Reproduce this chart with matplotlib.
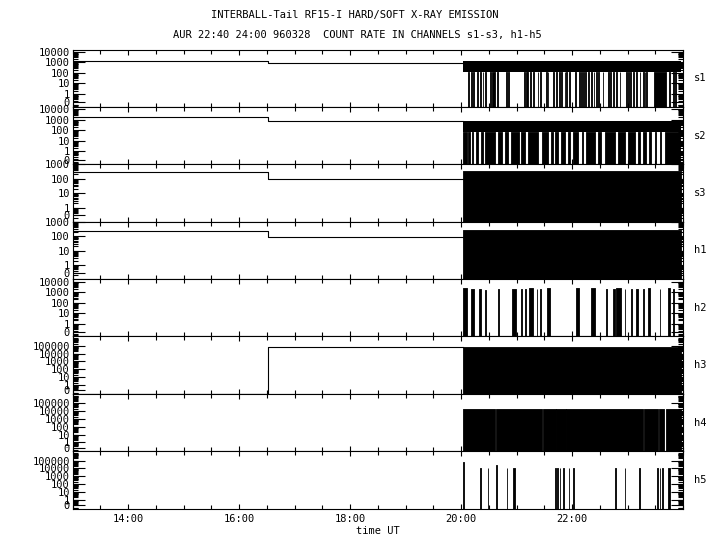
import numpy as np
import matplotlib
matplotlib.use("Agg")
import matplotlib.pyplot as plt
from matplotlib.ticker import LogLocator, NullFormatter, MultipleLocator, FixedLocator

plt.rcParams['font.family'] = ['DejaVu Sans Mono']
plt.rcParams['font.size'] = 7.5

channels = ['s1', 's2', 's3', 'h1', 'h2', 'h3', 'h4', 'h5']

# log10 range of each panel, and top labelled decade
y_lo = [-1.24, -1.24, -0.97, -0.97, -1.24, -1.15, -1.15, -1.15]
y_hi = [4.24, 4.24, 3.0, 3.0, 4.24, 6.2, 6.2, 6.2]
top_decade = [4, 4, 3, 3, 4, 5, 5, 5]

# before 20:00 the rates are flat, with one change at 16:31
step_times = [13.0, 16.52, 20.03]
s1_pre = [1450, 810]
s2_pre = [1750, 760]
s3_pre = [275, 90]
h1_pre = [220, 85]
h3_pre = [0, 72000]

# after 20:00: noisy band (low, high) for s1/s2
data_start, data_end = 20.03, 23.97
s1_band = (120, 1300)
s2_band = (72, 760)

# drop-outs to zero, (start hour, duration)
s1_drops = [(20.13, .012), (20.18, .012), (20.22, .012), (20.28, .03), (20.34, .012),
            (20.39, .012), (20.44, .012), (20.53, .012), (20.56, .05), (20.65, .012),
            (20.81, .012), (20.85, .012), (21.14, .012), (21.17, .012), (21.19, .012),
            (21.24, .012), (21.30, .012), (21.38, .012), (21.42, .012), (21.53, .012),
            (21.56, .012), (21.66, .012), (21.71, .012), (21.77, .012), (21.80, .012),
            (21.87, .012), (21.90, .012), (21.95, .012), (22.06, .012), (22.13, .012),
            (22.16, .012), (22.20, .012), (22.24, .012), (22.29, .012), (22.35, .012),
            (22.39, .012), (22.44, .012), (22.47, .012), (22.55, .012), (22.65, .012),
            (22.69, .012), (22.74, .012), (22.79, .012), (22.86, .012), (22.97, .012),
            (23.01, .012), (23.05, .012), (23.10, .012), (23.16, .012), (23.22, .012),
            (23.28, .012), (23.31, .012), (23.34, .012), (23.48, .22), (23.75, .012),
            (23.82, .012), (23.86, .012)]
s2_drops = [(20.038, .06), (20.129, .03), (20.195, .024), (20.267, .042), (20.351, .036),
            (20.429, .18), (20.669, .06), (20.789, .06), (20.891, .156), (21.089, .06),
            (21.210, .18), (21.450, .12), (21.618, .03), (21.690, .06), (21.810, .06),
            (21.930, .03), (22.020, .09), (22.171, .018), (22.243, .168), (22.471, .06),
            (22.591, .18), (22.831, .12), (23.011, .12), (23.192, .03), (23.282, .048),
            (23.390, .042), (23.492, .03), (23.582, .03), (23.672, .27)]

# channels that are black over the whole interval: top level of the spikes
s3_top = 350
h1_top = 260
h3_top = 72000
h4_top = 17000
h4_spans = [(20.03, .575), (20.625, .84), (21.48, .225), (21.72, .165), (21.90, 1.375),
            (23.29, .255), (23.565, .10), (23.685, .285)]

# sparse bursts (start, duration) and peak rate
h2_bursts = [(20.04, .06), (20.18, .05), (20.33, .03), (20.43, .012), (20.67, .012),
             (20.91, .08), (21.08, .012), (21.15, .012), (21.23, .07), (21.36, .012),
             (21.42, .012), (21.54, .06), (22.07, .06), (22.35, .06), (22.61, .012),
             (22.74, .03), (22.80, .09), (22.95, .012), (23.07, .012), (23.16, .03),
             (23.28, .012), (23.37, .04), (23.58, .012), (23.73, .03), (23.82, .012)]
h2_peak = [2500, 2000, 2000, 1500, 2000, 2000, 1800, 2000, 2200, 1800,
           1800, 2200, 2500, 2200, 1800, 2000, 2200, 1800, 2000, 2000,
           2000, 2200, 2000, 2200, 2000]
h5_bursts = [(20.04, .012), (20.35, .012), (20.48, .012), (20.63, .012), (20.82, .012),
             (20.94, .04), (21.69, .012), (21.73, .012), (21.78, .012), (21.84, .012),
             (21.94, .012), (22.02, .015), (22.78, .012), (22.95, .012), (23.21, .012),
             (23.53, .012), (23.58, .012), (23.63, .012), (23.73, .03)]
h5_peak = [76000, 12000, 12000, 25000, 12000, 12000, 12000, 12000, 12000, 12000,
           12000, 12000, 12000, 12000, 12000, 12000, 12000, 12000, 12000]

pre = {'s1': s1_pre, 's2': s2_pre, 's3': s3_pre, 'h1': h1_pre, 'h3': h3_pre}
bands = {'s1': s1_band, 's2': s2_band}
drops = {'s1': s1_drops, 's2': s2_drops}
full = {'s3': ([(data_start, data_end - data_start)], s3_top),
        'h1': ([(data_start, data_end - data_start)], h1_top),
        'h3': ([(data_start, data_end - data_start)], h3_top),
        'h4': (h4_spans, h4_top)}
bursts = {'h2': (h2_bursts, h2_peak), 'h5': (h5_bursts, h5_peak)}

fig = plt.figure(figsize=(7.2, 5.5), dpi=100)
left, right = 0.101, 0.9486
bottom, top = 0.0751, 0.91
ph = (top - bottom) / 8

for i, name in enumerate(channels):
    ax = fig.add_axes([left, top - (i + 1) * ph, right - left, ph])
    ax.set_yscale('log')
    ybot = 10 ** y_lo[i]
    ax.set_ylim(ybot, 10 ** y_hi[i])
    ax.set_xlim(13, 24)

    if name in pre:
        v = pre[name] + [pre[name][-1]]
        v = np.maximum(v, ybot)
        ax.step(step_times, v, where='post', color='k', lw=0.8)
    if name in bands:
        lo, hi = bands[name]
        ax.fill_between([data_start, data_end], lo, hi, color='k', lw=0)
        ax.broken_barh(drops[name], (ybot, lo - ybot), facecolor='k',
                       edgecolor='k', lw=0.6)
    if name in full:
        spans, lvl = full[name]
        ax.broken_barh(spans, (ybot, lvl - ybot), facecolor='k', edgecolor='k', lw=0.6)
    if name in bursts:
        spans, peaks = bursts[name]
        for sp, pk in zip(spans, peaks):
            ax.broken_barh([sp], (ybot, pk - ybot), facecolor='k', edgecolor='k', lw=0.6)

    # y ticks: "0" sits just above the bottom, then decades
    ticks = [10 ** (y_lo[i] + 0.45)] + [10 ** k for k in range(top_decade[i] + 1)]
    labels = ['0'] + [str(10 ** k) for k in range(top_decade[i] + 1)]
    ax.yaxis.set_major_locator(FixedLocator(ticks))
    ax.set_yticklabels(labels)
    ax.yaxis.set_minor_locator(LogLocator(base=10, subs=np.arange(2, 10), numticks=30))
    ax.yaxis.set_minor_formatter(NullFormatter())

    ax.xaxis.set_major_locator(FixedLocator([14, 16, 18, 20, 22]))
    ax.xaxis.set_minor_locator(MultipleLocator(0.5))
    ax.tick_params(axis='both', which='both', direction='in', top=True, right=True,
                   width=0.8, colors='k')
    ax.tick_params(axis='y', which='major', length=8.5, pad=2)
    ax.tick_params(axis='y', which='minor', length=3.6)
    ax.tick_params(axis='x', which='major', length=3.5, pad=4)
    ax.tick_params(axis='x', which='minor', length=2.8)
    for s in ax.spines.values():
        s.set_linewidth(0.8)

    if i < 7:
        ax.set_xticklabels([])
    else:
        ax.set_xticklabels(['14:00', '16:00', '18:00', '20:00', '22:00'])
        ax.set_xlabel('time UT', labelpad=1)

    ax.text(1.018, 0.5, name, transform=ax.transAxes, ha='left', va='center')

fig.text(0.493, 1 - 15 / 550, 'INTERBALL-Tail RF15-I HARD/SOFT X-RAY EMISSION',
         ha='center', va='center')
fig.text(0.496, 1 - 35 / 550,
         'AUR 22:40 24:00 960328  COUNT RATE IN CHANNELS s1-s3, h1-h5',
         ha='center', va='center')

fig.savefig('out.png', dpi=100)
